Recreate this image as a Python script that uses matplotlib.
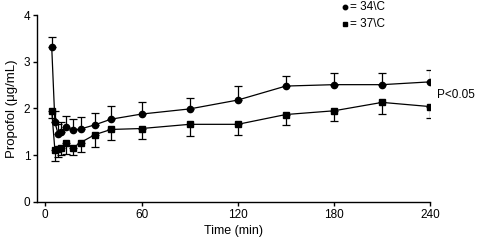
import matplotlib
matplotlib.use("Agg")
import matplotlib.pyplot as plt
from matplotlib.lines import Line2D

plt.rcParams['font.family'] = ['Liberation Sans', 'DejaVu Sans']

time_min = [4, 6, 8, 10, 13, 17, 22, 31, 41, 60, 90, 120, 150, 180, 210, 240]
c34_mean = [3.32, 1.70, 1.45, 1.50, 1.60, 1.54, 1.56, 1.65, 1.77, 1.88, 1.99, 2.18, 2.48, 2.51, 2.51, 2.57]
c34_err  = [0.21, 0.25, 0.22, 0.22, 0.24, 0.24, 0.25, 0.25, 0.28, 0.25, 0.24, 0.31, 0.22, 0.24, 0.26, 0.26]
c37_mean = [1.95, 1.10, 1.13, 1.15, 1.25, 1.15, 1.27, 1.44, 1.55, 1.57, 1.66, 1.66, 1.87, 1.95, 2.13, 2.04]
c37_err  = [0.15, 0.22, 0.18, 0.14, 0.23, 0.15, 0.20, 0.27, 0.23, 0.22, 0.25, 0.22, 0.22, 0.22, 0.24, 0.25]

x_ticks = [0, 60, 120, 180, 240]
y_ticks = [0, 1, 2, 3, 4]
labels = ["= 34\\C", "= 37\\C"]

W, H = 478, 244
fig = plt.figure(figsize=(W / 100, H / 100), dpi=100)
ax = fig.add_axes([0.078, 0.173, 0.822, 0.765])

lw = 0.9
ax.errorbar(time_min, c34_mean, yerr=[[0]*len(c34_err), c34_err], fmt='-o', color='black',
            lw=lw, ms=4.5, capsize=2.8, elinewidth=lw, capthick=lw)
ax.errorbar(time_min, c37_mean, yerr=[c37_err, [0]*len(c37_err)], fmt='-s', color='black',
            lw=lw, ms=4.5, capsize=2.8, elinewidth=lw, capthick=lw)

ax.set_xlim(-5, 240)
ax.set_ylim(0, 4)
ax.set_xticks(x_ticks)
ax.set_yticks(y_ticks)
for s in ['top', 'right']:
    ax.spines[s].set_visible(False)
for s in ['left', 'bottom']:
    ax.spines[s].set_linewidth(1.0)
ax.tick_params(direction='out', length=3, width=1.0, labelsize=8.5, pad=2)
ax.set_xlabel("Time (min)", fontsize=9, labelpad=3)
ax.set_ylabel("Propofol (\u03bcg/mL)", fontsize=9.5, labelpad=4)

# legend drawn manually
for (mk, yy, lab) in [('o', 7, labels[0]), ('s', 24, labels[1])]:
    fig.add_artist(Line2D([345 / W], [1 - yy / H], marker=mk, color='black', ls='none', ms=3.2,
                          transform=fig.transFigure))
    fig.text(350 / W, 1 - yy / H, lab, fontsize=8.5, va='center', ha='left')

fig.text(437 / W, 1 - 95 / H, "P<0.05", fontsize=8.5, va='center', ha='left')

fig.savefig("out.png", dpi=100)
